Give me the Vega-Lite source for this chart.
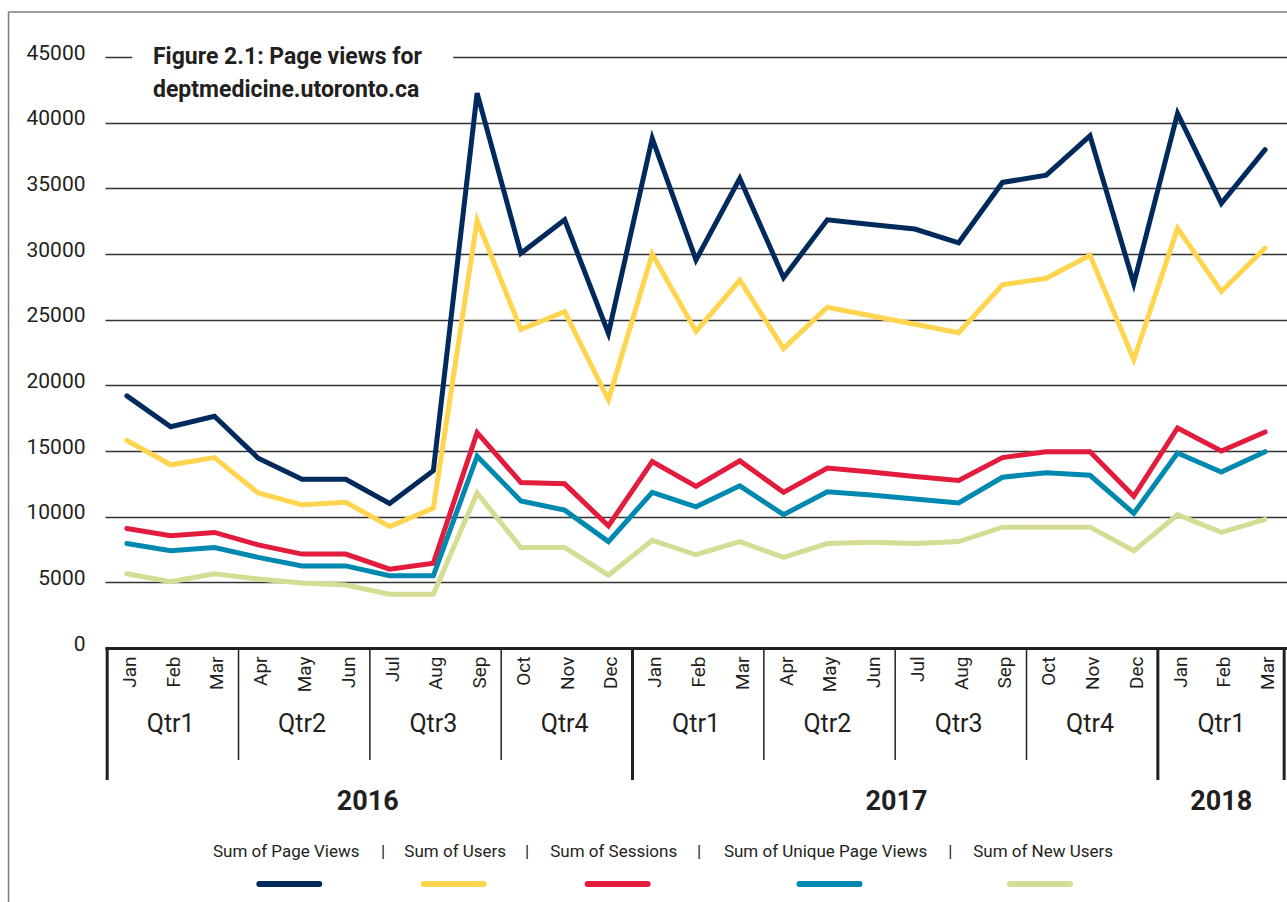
{
  "$schema": "https://vega.github.io/schema/vega-lite/v6.json",
  "width": 1182,
  "height": 591,
  "autosize": {"type": "none"},
  "padding": {"left": 105, "top": 57, "right": 0, "bottom": 254},
  "background": "white",
  "config": {
    "view": {"stroke": null},
    "font": "Roboto, sans-serif",
    "text": {"color": "#231f20", "font": "Roboto, sans-serif"},
    "axis": {"labelFont": "Roboto, sans-serif"}
  },
  "datasets": {
    "traffic": [
      {"month": "2016-01", "Sum of Page Views": 19200, "Sum of Users": 15800, "Sum of Sessions": 9100, "Sum of Unique Page Views": 7950, "Sum of New Users": 5650},
      {"month": "2016-02", "Sum of Page Views": 16850, "Sum of Users": 13950, "Sum of Sessions": 8550, "Sum of Unique Page Views": 7400, "Sum of New Users": 5050},
      {"month": "2016-03", "Sum of Page Views": 17650, "Sum of Users": 14500, "Sum of Sessions": 8800, "Sum of Unique Page Views": 7650, "Sum of New Users": 5650},
      {"month": "2016-04", "Sum of Page Views": 14450, "Sum of Users": 11800, "Sum of Sessions": 7850, "Sum of Unique Page Views": 6900, "Sum of New Users": 5250},
      {"month": "2016-05", "Sum of Page Views": 12850, "Sum of Users": 10900, "Sum of Sessions": 7150, "Sum of Unique Page Views": 6250, "Sum of New Users": 4950},
      {"month": "2016-06", "Sum of Page Views": 12850, "Sum of Users": 11100, "Sum of Sessions": 7150, "Sum of Unique Page Views": 6250, "Sum of New Users": 4800},
      {"month": "2016-07", "Sum of Page Views": 11000, "Sum of Users": 9250, "Sum of Sessions": 6000, "Sum of Unique Page Views": 5500, "Sum of New Users": 4100},
      {"month": "2016-08", "Sum of Page Views": 13500, "Sum of Users": 10650, "Sum of Sessions": 6450, "Sum of Unique Page Views": 5500, "Sum of New Users": 4100},
      {"month": "2016-09", "Sum of Page Views": 42250, "Sum of Users": 32550, "Sum of Sessions": 16400, "Sum of Unique Page Views": 14600, "Sum of New Users": 11800},
      {"month": "2016-10", "Sum of Page Views": 30050, "Sum of Users": 24250, "Sum of Sessions": 12600, "Sum of Unique Page Views": 11200, "Sum of New Users": 7650},
      {"month": "2016-11", "Sum of Page Views": 32600, "Sum of Users": 25600, "Sum of Sessions": 12500, "Sum of Unique Page Views": 10500, "Sum of New Users": 7650},
      {"month": "2016-12", "Sum of Page Views": 23950, "Sum of Users": 18900, "Sum of Sessions": 9300, "Sum of Unique Page Views": 8100, "Sum of New Users": 5550},
      {"month": "2017-01", "Sum of Page Views": 38800, "Sum of Users": 30000, "Sum of Sessions": 14200, "Sum of Unique Page Views": 11850, "Sum of New Users": 8200},
      {"month": "2017-02", "Sum of Page Views": 29550, "Sum of Users": 24100, "Sum of Sessions": 12300, "Sum of Unique Page Views": 10750, "Sum of New Users": 7100},
      {"month": "2017-03", "Sum of Page Views": 35750, "Sum of Users": 28000, "Sum of Sessions": 14250, "Sum of Unique Page Views": 12350, "Sum of New Users": 8100},
      {"month": "2017-04", "Sum of Page Views": 28200, "Sum of Users": 22800, "Sum of Sessions": 11850, "Sum of Unique Page Views": 10150, "Sum of New Users": 6900},
      {"month": "2017-05", "Sum of Page Views": 32600, "Sum of Users": 25950, "Sum of Sessions": 13700, "Sum of Unique Page Views": 11900, "Sum of New Users": 7950},
      {"month": "2017-06", "Sum of Page Views": 32250, "Sum of Users": 25300, "Sum of Sessions": 13400, "Sum of Unique Page Views": 11650, "Sum of New Users": 8050},
      {"month": "2017-07", "Sum of Page Views": 31900, "Sum of Users": 24650, "Sum of Sessions": 13050, "Sum of Unique Page Views": 11350, "Sum of New Users": 7950},
      {"month": "2017-08", "Sum of Page Views": 30850, "Sum of Users": 24000, "Sum of Sessions": 12750, "Sum of Unique Page Views": 11050, "Sum of New Users": 8100},
      {"month": "2017-09", "Sum of Page Views": 35450, "Sum of Users": 27650, "Sum of Sessions": 14500, "Sum of Unique Page Views": 13000, "Sum of New Users": 9200},
      {"month": "2017-10", "Sum of Page Views": 36000, "Sum of Users": 28150, "Sum of Sessions": 14950, "Sum of Unique Page Views": 13350, "Sum of New Users": 9200},
      {"month": "2017-11", "Sum of Page Views": 39000, "Sum of Users": 29900, "Sum of Sessions": 14950, "Sum of Unique Page Views": 13150, "Sum of New Users": 9200},
      {"month": "2017-12", "Sum of Page Views": 27750, "Sum of Users": 21950, "Sum of Sessions": 11550, "Sum of Unique Page Views": 10250, "Sum of New Users": 7400},
      {"month": "2018-01", "Sum of Page Views": 40700, "Sum of Users": 31950, "Sum of Sessions": 16750, "Sum of Unique Page Views": 14850, "Sum of New Users": 10150},
      {"month": "2018-02", "Sum of Page Views": 33850, "Sum of Users": 27150, "Sum of Sessions": 15000, "Sum of Unique Page Views": 13400, "Sum of New Users": 8800},
      {"month": "2018-03", "Sum of Page Views": 37950, "Sum of Users": 30450, "Sum of Sessions": 16450, "Sum of Unique Page Views": 14950, "Sum of New Users": 9800}
    ],
    "quarters": [
      {"q": "Qtr1", "mid": "2016-02", "start": "2016-01"},
      {"q": "Qtr2", "mid": "2016-05", "start": "2016-04"},
      {"q": "Qtr3", "mid": "2016-08", "start": "2016-07"},
      {"q": "Qtr4", "mid": "2016-11", "start": "2016-10"},
      {"q": "Qtr1", "mid": "2017-02", "start": "2017-01"},
      {"q": "Qtr2", "mid": "2017-05", "start": "2017-04"},
      {"q": "Qtr3", "mid": "2017-08", "start": "2017-07"},
      {"q": "Qtr4", "mid": "2017-11", "start": "2017-10"},
      {"q": "Qtr1", "mid": "2018-02", "start": "2018-01"}
    ]
  },
  "layer": [
    {
      "data": {"name": "traffic"},
      "transform": [{"fold": ["Sum of Page Views", "Sum of Users", "Sum of Sessions", "Sum of Unique Page Views", "Sum of New Users"], "as": ["series", "value"]}],
      "mark": {"type": "line", "strokeWidth": 5, "strokeJoin": "miter", "strokeCap": "round"},
      "encoding": {
        "x": {
          "field": "month", "type": "nominal", "bandPosition": 0.5,
          "scale": {"type": "band", "paddingInner": 0, "paddingOuter": 0,
            "domain": ["2016-01","2016-02","2016-03","2016-04","2016-05","2016-06","2016-07","2016-08","2016-09","2016-10","2016-11","2016-12","2017-01","2017-02","2017-03","2017-04","2017-05","2017-06","2017-07","2017-08","2017-09","2017-10","2017-11","2017-12","2018-01","2018-02","2018-03"]},
          "axis": {
            "title": null,
            "labelExpr": "['Jan','Feb','Mar','Apr','May','Jun','Jul','Aug','Sep','Oct','Nov','Dec'][toNumber(substring(datum.value,5,7))-1]",
            "labelAngle": -90, "labelFontSize": 19, "labelColor": "#231f20", "labelPadding": 8, "labelOffset": 3,
            "ticks": false, "domain": true, "domainColor": "#231f20", "domainWidth": 3, "grid": false
          }
        },
        "y": {
          "field": "value", "type": "quantitative",
          "scale": {"domain": [0, 45000], "nice": false, "zero": true},
          "axis": {
            "title": null, "values": [0, 5000, 10000, 15000, 20000, 25000, 30000, 35000, 40000, 45000], "format": "d",
            "domain": false, "ticks": false, "labelPadding": 20, "labelFontSize": 21, "labelColor": "#231f20", "labelOffset": -4,
            "grid": true, "gridColor": "#333333", "gridWidth": 1.3
          }
        },
        "color": {
          "field": "series", "type": "nominal", "legend": null,
          "scale": {"domain": ["Sum of Page Views", "Sum of Users", "Sum of Sessions", "Sum of Unique Page Views", "Sum of New Users"],
                    "range": ["#002a5c", "#ffd550", "#e31b3c", "#0089b0", "#d5dc93"]}
        }
      }
    },
    {
      "data": {"values": [{}]},
      "mark": {"type": "rule", "strokeWidth": 1.5, "color": "#7a7a7a"},
      "encoding": {"x": {"datum": "2016-01", "bandPosition": -2.204}, "y": {"datum": 48426}, "y2": {"datum": -25000}}
    },
    {
      "data": {"values": [{}]},
      "mark": {"type": "rule", "strokeWidth": 1.5, "color": "#7a7a7a"},
      "encoding": {"y": {"datum": 48426}, "x": {"datum": "2016-01", "bandPosition": -2.204}, "x2": {"datum": "2018-03", "bandPosition": 1.5}}
    },
    {
      "data": {"values": [{}]},
      "mark": {"type": "point", "shape": "stroke", "size": 103041, "filled": false, "strokeWidth": 5, "color": "white", "opacity": 1},
      "encoding": {"x": {"datum": "2016-05", "bandPosition": 0.287}, "y": {"datum": 45000}}
    },
    {
      "data": {"values": [{}]},
      "mark": {"type": "text", "text": ["Figure 2.1: Page views for", "deptmedicine.utoronto.ca"], "align": "left", "baseline": "alphabetic", "dx": 48, "dy": 7, "fontSize": 23, "fontWeight": "bold", "lineHeight": 32.7, "color": "#231f20"},
      "encoding": {"x": {"datum": "2016-01", "bandPosition": 0}, "y": {"datum": 45000}}
    },
    {
      "data": {"name": "quarters"},
      "mark": {"type": "text", "fontSize": 25, "baseline": "middle", "align": "center", "color": "#231f20"},
      "encoding": {"x": {"field": "mid", "type": "nominal", "bandPosition": 0.5}, "y": {"datum": -5787}, "text": {"field": "q"}}
    },
    {
      "data": {"name": "quarters"},
      "transform": [{"filter": "datum.q != 'Qtr1'"}],
      "mark": {"type": "rule", "strokeWidth": 1.5, "color": "#231f20"},
      "encoding": {"x": {"field": "start", "type": "nominal", "bandPosition": 0.05}, "y": {"datum": 0}, "y2": {"datum": -8528}}
    },
    {
      "data": {"name": "quarters"},
      "transform": [{"filter": "datum.q == 'Qtr1'"}],
      "mark": {"type": "rule", "strokeWidth": 3, "color": "#231f20"},
      "encoding": {"x": {"field": "start", "type": "nominal", "bandPosition": 0.05}, "y": {"datum": 0}, "y2": {"datum": -10050}}
    },
    {
      "data": {"values": [{}]},
      "mark": {"type": "rule", "strokeWidth": 3, "color": "#231f20"},
      "encoding": {"x": {"datum": "2018-03", "bandPosition": 0.935}, "y": {"datum": 0}, "y2": {"datum": -10050}}
    },
    {
      "data": {"values": [{}]},
      "mark": {"type": "text", "text": "2016", "fontSize": 27, "fontWeight": "bold", "baseline": "middle", "align": "center"},
      "encoding": {"x": {"datum": "2016-07", "bandPosition": 0}, "y": {"datum": -11726}}
    },
    {
      "data": {"values": [{}]},
      "mark": {"type": "text", "text": "2017", "fontSize": 27, "fontWeight": "bold", "baseline": "middle", "align": "center"},
      "encoding": {"x": {"datum": "2017-07", "bandPosition": 0.08}, "y": {"datum": -11726}}
    },
    {
      "data": {"values": [{}]},
      "mark": {"type": "text", "text": "2018", "fontSize": 27, "fontWeight": "bold", "baseline": "middle", "align": "center"},
      "encoding": {"x": {"datum": "2018-02", "bandPosition": 0.5}, "y": {"datum": -11726}}
    },
    {
      "data": {"values": [{}]},
      "mark": {"type": "text", "text": "Sum of Page Views", "fontSize": 17, "baseline": "middle", "align": "center"},
      "encoding": {"x": {"datum": "2016-05", "bandPosition": 0.14}, "y": {"datum": -15533}}
    },
    {
      "data": {"values": [{}]},
      "mark": {"type": "text", "text": "Sum of Users", "fontSize": 17, "baseline": "middle", "align": "center"},
      "encoding": {"x": {"datum": "2016-09", "bandPosition": 0.0}, "y": {"datum": -15533}}
    },
    {
      "data": {"values": [{}]},
      "mark": {"type": "text", "text": "Sum of Sessions", "fontSize": 17, "baseline": "middle", "align": "center"},
      "encoding": {"x": {"datum": "2016-12", "bandPosition": 0.62}, "y": {"datum": -15533}}
    },
    {
      "data": {"values": [{}]},
      "mark": {"type": "text", "text": "Sum of Unique Page Views", "fontSize": 17, "baseline": "middle", "align": "center"},
      "encoding": {"x": {"datum": "2017-05", "bandPosition": 0.46}, "y": {"datum": -15533}}
    },
    {
      "data": {"values": [{}]},
      "mark": {"type": "text", "text": "Sum of New Users", "fontSize": 17, "baseline": "middle", "align": "center"},
      "encoding": {"x": {"datum": "2017-10", "bandPosition": 0.43}, "y": {"datum": -15533}}
    },
    {
      "data": {"values": [{}]},
      "mark": {"type": "text", "text": "|", "fontSize": 17, "baseline": "middle", "align": "center"},
      "encoding": {"x": {"datum": "2016-07", "bandPosition": 0.35}, "y": {"datum": -15533}}
    },
    {
      "data": {"values": [{}]},
      "mark": {"type": "text", "text": "|", "fontSize": 17, "baseline": "middle", "align": "center"},
      "encoding": {"x": {"datum": "2016-10", "bandPosition": 0.64}, "y": {"datum": -15533}}
    },
    {
      "data": {"values": [{}]},
      "mark": {"type": "text", "text": "|", "fontSize": 17, "baseline": "middle", "align": "center"},
      "encoding": {"x": {"datum": "2017-02", "bandPosition": 0.57}, "y": {"datum": -15533}}
    },
    {
      "data": {"values": [{}]},
      "mark": {"type": "text", "text": "|", "fontSize": 17, "baseline": "middle", "align": "center"},
      "encoding": {"x": {"datum": "2017-08", "bandPosition": 0.31}, "y": {"datum": -15533}}
    },
    {
      "data": {"values": [{}]},
      "mark": {"type": "point", "shape": "stroke", "size": 3600, "filled": false, "strokeWidth": 6, "strokeCap": "round", "color": "#002a5c", "opacity": 1},
      "encoding": {"x": {"datum": "2016-05", "bandPosition": 0.21}, "y": {"datum": -17969}}
    },
    {
      "data": {"values": [{}]},
      "mark": {"type": "point", "shape": "stroke", "size": 3600, "filled": false, "strokeWidth": 6, "strokeCap": "round", "color": "#ffd550", "opacity": 1},
      "encoding": {"x": {"datum": "2016-08", "bandPosition": 0.965}, "y": {"datum": -17969}}
    },
    {
      "data": {"values": [{}]},
      "mark": {"type": "point", "shape": "stroke", "size": 3600, "filled": false, "strokeWidth": 6, "strokeCap": "round", "color": "#e31b3c", "opacity": 1},
      "encoding": {"x": {"datum": "2016-12", "bandPosition": 0.71}, "y": {"datum": -17969}}
    },
    {
      "data": {"values": [{}]},
      "mark": {"type": "point", "shape": "stroke", "size": 3600, "filled": false, "strokeWidth": 6, "strokeCap": "round", "color": "#0089b0", "opacity": 1},
      "encoding": {"x": {"datum": "2017-05", "bandPosition": 0.55}, "y": {"datum": -17969}}
    },
    {
      "data": {"values": [{}]},
      "mark": {"type": "point", "shape": "stroke", "size": 3600, "filled": false, "strokeWidth": 6, "strokeCap": "round", "color": "#d5dc93", "opacity": 1},
      "encoding": {"x": {"datum": "2017-10", "bandPosition": 0.36}, "y": {"datum": -17969}}
    }
  ]
}
